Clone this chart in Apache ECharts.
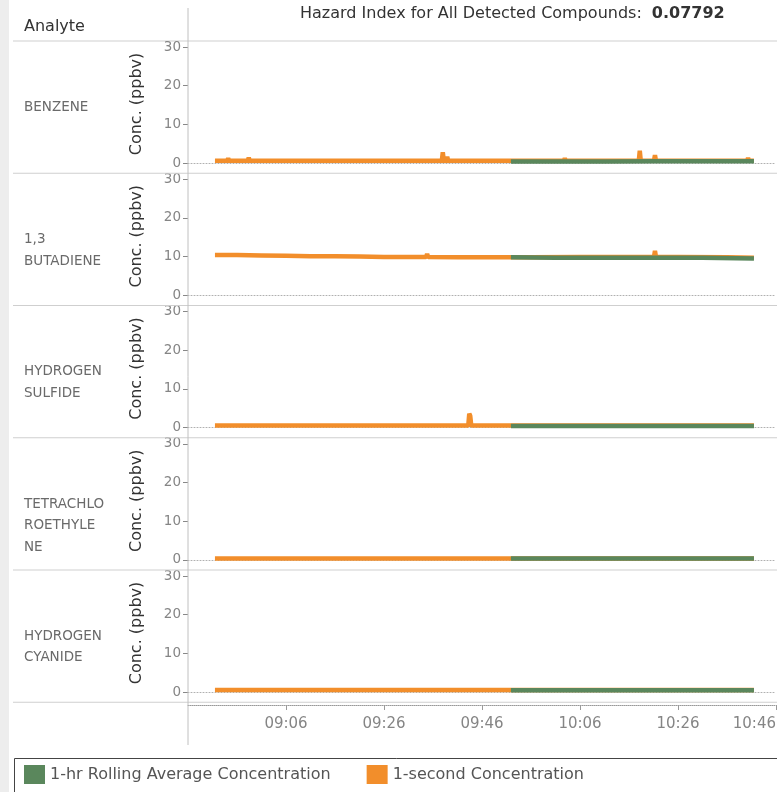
<!DOCTYPE html>
<html><head><meta charset="utf-8">
<script src="https://cdn.jsdelivr.net/npm/echarts@6/dist/echarts.min.js"></script>
<style>html,body{margin:0;padding:0;background:#fff}#c{width:777px;height:792px}</style>
</head><body><div id="c"></div>
<script>
// ---------- DATA ----------
const analytes = ['BENZENE', '1,3\nBUTADIENE', 'HYDROGEN\nSULFIDE', 'TETRACHLO\nROETHYLE\nNE', 'HYDROGEN\nCYANIDE'];
const hazardLabel = 'Hazard Index for All Detected Compounds:';
const hazardIndex = '0.07792';
const seriesNames = ['1-hr Rolling Average Concentration', '1-second Concentration'];
const axisOrigin = [8, 46];            // x = minutes after 08:46
const yTicks = [0, 10, 20, 30];

// 1-second concentration (minutes after 08:46, ppbv)
const benzeneSecT = [5.5, 8.0, 8.2, 8.4, 12.2, 12.4, 12.6, 20, 25.3, 25.5, 25.7, 32.0, 32.2, 32.4, 40, 48.6, 48.8, 49.0, 51.8, 52.0, 52.2, 52.7, 52.9, 53.1, 57.4, 57.6, 57.8, 65, 76.7, 76.9, 77.1, 85, 92.0, 92.2, 92.4, 95.1, 95.3, 95.5, 101.6, 101.8, 102.0, 108, 114.1, 114.3, 114.5, 115.5];
const benzeneSecV = [0.6, 0.6, 1.2, 0.6, 0.6, 1.4, 0.6, 0.6, 0.6, 1.0, 0.6, 0.6, 0.9, 0.6, 0.6, 0.6, 1.0, 0.6, 0.6, 2.8, 0.6, 0.6, 1.6, 0.6, 0.6, 1.1, 0.6, 0.6, 0.6, 1.2, 0.6, 0.6, 0.6, 3.2, 0.6, 0.6, 2.0, 0.6, 0.6, 1.0, 0.6, 0.6, 0.6, 1.3, 0.6, 0.6];
const butadieneSecT = [5.5, 10, 15, 20, 25, 30, 35, 40, 45, 48.6, 48.8, 49.0, 55, 60, 65, 70, 80, 90, 95.1, 95.3, 95.5, 100, 110, 115.5];
const butadieneSecV = [10.4, 10.4, 10.3, 10.2, 10.1, 10.1, 10.0, 9.9, 9.9, 9.9, 10.7, 9.9, 9.8, 9.8, 9.8, 9.8, 9.9, 9.9, 9.9, 11.5, 9.9, 9.9, 9.8, 9.7];
const h2sSecT = [5.5, 15, 25, 35, 45, 57.2, 57.4, 57.6, 57.8, 65, 80, 95, 115.5];
const h2sSecV = [0.5, 0.5, 0.5, 0.5, 0.5, 0.5, 3.6, 3.0, 0.5, 0.5, 0.5, 0.5, 0.5];
const tetraSecT = [5.5, 30, 60, 90, 115.5];
const tetraSecV = [0.3, 0.3, 0.3, 0.3, 0.3];
const hcnSecT = [5.5, 30, 60, 90, 115.5];
const hcnSecV = [0.5, 0.5, 0.5, 0.5, 0.5];

// 1-hr rolling average (minutes after 08:46, ppbv)
const avgT = [65.9, 75, 85, 95, 105, 115.5];
const benzeneAvgV = [0.4, 0.4, 0.4, 0.45, 0.45, 0.45];
const butadieneAvgV = [9.8, 9.7, 9.7, 9.7, 9.7, 9.5];
const h2sAvgV = [0.4, 0.4, 0.4, 0.4, 0.4, 0.4];
const tetraAvgV = [0.3, 0.3, 0.3, 0.3, 0.3, 0.3];
const hcnAvgV = [0.45, 0.45, 0.45, 0.45, 0.45, 0.45];

const secT = [benzeneSecT, butadieneSecT, h2sSecT, tetraSecT, hcnSecT];
const secV = [benzeneSecV, butadieneSecV, h2sSecV, tetraSecV, hcnSecV];
const avgV = [benzeneAvgV, butadieneAvgV, h2sAvgV, tetraAvgV, hcnAvgV];

// ---------- STYLE / LAYOUT ----------
const FONT = 'DejaVu Sans';
const GREEN = '#5a875c', ORANGE = '#f28e2b';
const PLOT_L = 188, PLOT_W = 588;
const ROW0 = 41, PITCH = 132.25;
const X_MAX = 120;

const zip = (a, b) => a.map((t, i) => [t, b[i]]);
const fmtClock = v => {
  const m = axisOrigin[0] * 60 + axisOrigin[1] + Math.round(v);
  return String(Math.floor(m / 60)).padStart(2, '0') + ':' + String(m % 60).padStart(2, '0');
};

const grids = [], xAxes = [], yAxes = [], series = [], graphics = [];
for (let i = 0; i < 5; i++) {
  grids.push({ left: PLOT_L, width: PLOT_W, top: ROW0 + 6 + PITCH * i, height: 116, containLabel: false, outerBoundsMode: 'none' });
  xAxes.push({
    type: 'value', gridIndex: i, min: 0, max: X_MAX, interval: 20,
    axisLine: { show: true, onZero: false, lineStyle: { color: '#b0b0b0', type: [1, 2], width: 1 } },
    axisTick: { show: false }, axisLabel: { show: false }, splitLine: { show: false }
  });
  yAxes.push({
    type: 'value', gridIndex: i, min: yTicks[0], max: yTicks[yTicks.length - 1], interval: 10,
    axisLine: { show: false },
    axisTick: { show: true, length: 5, lineStyle: { color: '#888' } },
    axisLabel: { color: '#858585', fontSize: 13.5, fontFamily: FONT, margin: 7 },
    splitLine: { show: false }
  });
  series.push({
    name: seriesNames[1], type: 'line', xAxisIndex: i, yAxisIndex: i,
    data: zip(secT[i], secV[i]), showSymbol: false, symbol: 'none', clip: false,
    lineStyle: { color: ORANGE, width: 4.5 }, itemStyle: { color: ORANGE }, z: 2, animation: false
  });
  series.push({
    name: seriesNames[0], type: 'line', xAxisIndex: i, yAxisIndex: i,
    data: zip(avgT, avgV[i]), showSymbol: false, symbol: 'none', clip: false,
    lineStyle: { color: GREEN, width: 4.5 }, itemStyle: { color: GREEN }, z: 3, animation: false
  });
  const rowCenter = ROW0 + PITCH * i + PITCH / 2;
  graphics.push({
    type: 'text', left: 24, top: rowCenter - 10.5,
    style: { text: analytes[i], fill: '#6a6a6a', fontSize: 13.5, fontFamily: FONT, lineHeight: 21.5 }
  });
  graphics.push({
    type: 'text', x: 137, y: ROW0 + 63 + PITCH * i, rotation: Math.PI / 2,
    style: { text: 'Conc. (ppbv)', fill: '#333', fontSize: 16, fontFamily: FONT, align: 'center', verticalAlign: 'middle' }
  });
  graphics.push({
    type: 'line', shape: { x1: 13, y1: ROW0 + PITCH * (i + 1), x2: 777, y2: ROW0 + PITCH * (i + 1) },
    style: { stroke: '#cfcfcf', lineWidth: 1 }, z: 1
  });
}
// bottom time axis on its own thin grid
grids.push({ left: PLOT_L, width: PLOT_W, top: ROW0 + 6 + PITCH * 4 + 117, height: 12, containLabel: false, outerBoundsMode: 'none' });
xAxes.push({
  type: 'value', gridIndex: 5, min: 0, max: X_MAX, interval: 20, position: 'bottom',
  axisLine: { show: true, onZero: false, lineStyle: { color: '#999', type: [1, 1], width: 1 } },
  axisTick: { show: true, length: 5, lineStyle: { color: '#999' } },
  axisLabel: { color: '#858585', fontSize: 15, fontFamily: FONT, margin: 12, showMinLabel: false, hideOverlap: false, alignMaxLabel: 'right', formatter: fmtClock },
  splitLine: { show: false }
});
yAxes.push({ type: 'value', gridIndex: 5, min: 0, max: 1, show: false });

graphics.push(
  { type: 'rect', shape: { x: 0, y: 0, width: 9, height: 792 }, style: { fill: '#ededed' }, z: 0 },
  { type: 'line', shape: { x1: 13, y1: ROW0, x2: 777, y2: ROW0 }, style: { stroke: '#cfcfcf', lineWidth: 1 } },
  { type: 'line', shape: { x1: PLOT_L, y1: 8, x2: PLOT_L, y2: 745 }, style: { stroke: '#c0c0c0', lineWidth: 1 }, z: 5 },
  { type: 'text', left: 24, top: 19, style: { text: 'Analyte', fill: '#333', fontSize: 16, fontFamily: FONT } },
  {
    type: 'text', left: 300, top: 6,
    style: {
      text: '{a|' + hazardLabel + '}   {b|' + hazardIndex + '}',
      rich: {
        a: { fill: '#333', fontSize: 16, fontFamily: FONT },
        b: { fill: '#333', fontSize: 16, fontFamily: FONT, fontWeight: 'bold' }
      }
    }
  },
  { type: 'rect', shape: { x: 14.5, y: 758.5, width: 800, height: 40 }, style: { fill: 'none', stroke: '#444', lineWidth: 1 } }
);

const chart = echarts.init(document.getElementById('c'), null, { renderer: 'canvas' });
chart.setOption({
  animation: false,
  backgroundColor: '#fff',
  grid: grids, xAxis: xAxes, yAxis: yAxes, series: series,
  legend: {
    data: [{ name: seriesNames[0], icon: 'rect' }, { name: seriesNames[1], icon: 'rect' }],
    left: 19, top: 760, itemWidth: 21, itemHeight: 19, itemGap: 36, selectedMode: false,
    textStyle: { color: '#555', fontSize: 16, fontFamily: FONT }
  },
  graphic: graphics
});
</script></body></html>
